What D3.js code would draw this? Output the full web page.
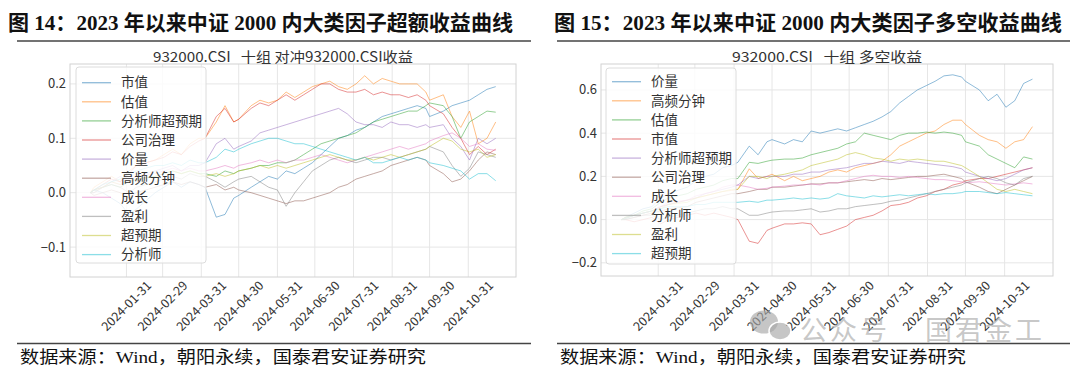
<!DOCTYPE html>
<html>
<head>
<meta charset="utf-8">
<script src="https://cdn.jsdelivr.net/npm/d3@7"></script>
<style>
  body { margin: 0; background: #fff; }
  svg { display: block; }
  .hd { font-family: "Liberation Serif", "Noto Sans CJK SC", serif; font-weight: bold; fill: #111; }
  .src { font-family: "Liberation Serif", "Noto Sans CJK SC", serif; fill: #111; }
  .sans { font-family: "Noto Sans CJK SC", "DejaVu Sans", sans-serif; fill: #333; }
</style>
</head>
<body>
<svg id="chart" width="1080" height="373"></svg>
<script>

// weekly closes (the first 13 sit under the legends)
var dates = ["2024-01-02","2024-01-05","2024-01-12","2024-01-19","2024-01-26","2024-02-02","2024-02-08","2024-02-23",
  "2024-03-01","2024-03-08","2024-03-15","2024-03-22","2024-03-29","2024-04-03","2024-04-12","2024-04-19","2024-04-26",
  "2024-04-30","2024-05-10","2024-05-17","2024-05-24","2024-05-31","2024-06-07","2024-06-14","2024-06-21","2024-06-28",
  "2024-07-05","2024-07-12","2024-07-19","2024-07-26","2024-08-02","2024-08-09","2024-08-16","2024-08-23","2024-08-30",
  "2024-09-06","2024-09-13","2024-09-20","2024-09-27","2024-09-30","2024-10-11","2024-10-18","2024-10-25","2024-11-01",
  "2024-11-08","2024-11-15","2024-11-22"];

var tickDates = ["2024-01-31","2024-02-29","2024-03-31","2024-04-30","2024-05-31","2024-06-30",
  "2024-07-31","2024-08-31","2024-09-30","2024-10-31"];

var colors = ["#1f77b4","#ff7f0e","#2ca02c","#d62728","#9467bd","#8c564b","#e377c2","#7f7f7f","#bcbd22","#17becf"];

// left panel: 超额收益
var leftNames = ["市值","估值","分析师超预期","公司治理","价量","高频分钟","成长","盈利","超预期","分析师"];
var leftTicks = [-0.1, 0.0, 0.1, 0.2];

var exSize = [0, 0.005, 0, -0.01, -0.02, -0.04, -0.03, 0, 0.01, 0.02, 0.01, 0.02, 0.015,
  0.01, -0.045, -0.04, -0.01, -0.005, 0.01, 0.02, 0.03, 0.025, 0.04, 0.035, 0.045, 0.055, 0.07, 0.085, 0.1, 0.105,
  0.115, 0.12, 0.13, 0.14, 0.145, 0.15, 0.155, 0.16, 0.155, 0.14, 0.15, 0.16, 0.165, 0.17, 0.18, 0.19, 0.195];
var exValue = [0, 0.01, 0.02, 0.03, 0.02, 0.04, 0.05, 0.06, 0.07, 0.08, 0.07, 0.09, 0.1,
  0.1, 0.13, 0.16, 0.13, 0.135, 0.16, 0.17, 0.165, 0.17, 0.185, 0.175, 0.185, 0.195, 0.2, 0.205, 0.195, 0.19,
  0.2, 0.215, 0.2, 0.21, 0.205, 0.2, 0.2, 0.2, 0.185, 0.17, 0.18, 0.14, 0.12, 0.15, 0.09, 0.1, 0.13];
var exAnaSurprise = [0, 0, 0.01, 0.015, 0.01, 0.02, 0.025, 0.03, 0.035, 0.04, 0.035, 0.04, 0.035,
  0.035, 0.03, 0.04, 0.035, 0.04, 0.045, 0.05, 0.05, 0.055, 0.055, 0.06, 0.07, 0.08, 0.09, 0.095, 0.1, 0.105,
  0.11, 0.12, 0.13, 0.135, 0.14, 0.145, 0.15, 0.15, 0.16, 0.165, 0.16, 0.14, 0.1, 0.13, 0.14, 0.15, 0.148];
var exGovern = [0, 0.005, 0.015, 0.025, 0.02, 0.035, 0.05, 0.06, 0.065, 0.075, 0.07, 0.085, 0.095,
  0.1, 0.14, 0.155, 0.13, 0.135, 0.155, 0.165, 0.16, 0.17, 0.18, 0.17, 0.18, 0.19, 0.2, 0.2, 0.19, 0.185,
  0.185, 0.19, 0.18, 0.185, 0.18, 0.18, 0.175, 0.18, 0.17, 0.16, 0.145, 0.12, 0.1, 0.07, 0.085, 0.07, 0.08];
var exPriceVol = [0, 0.005, 0.01, 0.02, 0.03, 0.02, 0.03, 0.04, 0.045, 0.05, 0.04, 0.05, 0.05,
  0.055, 0.09, 0.1, 0.08, 0.085, 0.095, 0.11, 0.115, 0.12, 0.125, 0.13, 0.135, 0.14, 0.145, 0.15, 0.155, 0.145,
  0.13, 0.125, 0.125, 0.12, 0.13, 0.125, 0.125, 0.12, 0.125, 0.12, 0.125, 0.1, 0.085, 0.06, 0.1, 0.09, 0.1];
var exHF = [0, -0.005, 0, 0.005, 0, -0.01, 0, 0.01, 0.015, 0.02, 0.015, 0.02, 0.015,
  0.01, 0.015, 0.005, 0.01, 0.005, 0, -0.005, -0.01, -0.015, -0.02, -0.015, -0.015, -0.01, -0.005, 0, 0.01, 0.015,
  0.025, 0.03, 0.035, 0.04, 0.05, 0.055, 0.06, 0.065, 0.06, 0.05, 0.035, 0.02, 0.025, 0.04, 0.06, 0.075, 0.07];
var exGrowth = [0, 0, 0.01, 0.02, 0.015, 0.025, 0.03, 0.035, 0.04, 0.045, 0.04, 0.045, 0.04,
  0.04, 0.045, 0.05, 0.045, 0.05, 0.055, 0.06, 0.055, 0.06, 0.055, 0.06, 0.06, 0.065, 0.07, 0.065, 0.06, 0.055,
  0.06, 0.065, 0.07, 0.075, 0.08, 0.085, 0.08, 0.085, 0.09, 0.095, 0.105, 0.11, 0.1, 0.085, 0.09, 0.08, 0.078];
var exProfit = [0, 0.005, 0.01, 0.015, 0.01, 0, 0.01, 0.02, 0.025, 0.03, 0.025, 0.035, 0.03,
  0.03, 0.02, 0.01, 0.02, 0.025, 0.03, 0.02, 0.01, 0.005, -0.025, 0, 0.02, 0.04, 0.05, 0.06, 0.065, 0.06,
  0.055, 0.06, 0.065, 0.065, 0.06, 0.065, 0.07, 0.075, 0.08, 0.085, 0.075, 0.05, 0.03, 0.045, 0.075, 0.07, 0.065];
var exSurprise = [0, 0.005, 0.01, 0.02, 0.015, 0.02, 0.025, 0.03, 0.035, 0.04, 0.035, 0.04, 0.035,
  0.03, 0.035, 0.03, 0.035, 0.04, 0.045, 0.05, 0.045, 0.05, 0.045, 0.05, 0.055, 0.06, 0.065, 0.07, 0.065, 0.06,
  0.06, 0.065, 0.06, 0.065, 0.07, 0.065, 0.07, 0.075, 0.08, 0.085, 0.1, 0.095, 0.08, 0.075, 0.08, 0.065, 0.07];
var exAnalyst = [0, 0.005, 0.015, 0.02, 0.025, 0.035, 0.04, 0.05, 0.05, 0.055, 0.05, 0.06, 0.055,
  0.055, 0.065, 0.08, 0.075, 0.08, 0.09, 0.095, 0.1, 0.1, 0.095, 0.09, 0.09, 0.085, 0.08, 0.075, 0.07, 0.065,
  0.06, 0.065, 0.055, 0.055, 0.06, 0.065, 0.06, 0.065, 0.06, 0.055, 0.05, 0.045, 0.04, 0.025, 0.035, 0.035, 0.022];

// right panel: 多空收益
var rightNames = ["价量","高频分钟","估值","市值","分析师超预期","公司治理","成长","分析师","盈利","超预期"];
var rightTicks = [-0.2, 0.0, 0.2, 0.4, 0.6];

var lsPriceVol = [0, 0.01, 0.03, 0.05, 0.06, 0.1, 0.12, 0.15, 0.18, 0.2, 0.21, 0.24, 0.25,
  0.265, 0.34, 0.3, 0.36, 0.37, 0.35, 0.37, 0.36, 0.41, 0.4, 0.41, 0.42, 0.41, 0.425, 0.44, 0.455, 0.475,
  0.5, 0.54, 0.57, 0.6, 0.62, 0.64, 0.665, 0.67, 0.66, 0.64, 0.6, 0.55, 0.58, 0.52, 0.55, 0.63, 0.65];
var lsHF = [0, 0.01, 0.02, 0.03, 0.04, 0.06, 0.07, 0.09, 0.1, 0.11, 0.12, 0.13, 0.135,
  0.14, 0.235, 0.19, 0.2, 0.21, 0.18, 0.2, 0.18, 0.19, 0.2, 0.22, 0.23, 0.22, 0.24, 0.25, 0.26, 0.27,
  0.3, 0.34, 0.36, 0.38, 0.4, 0.41, 0.44, 0.46, 0.46, 0.44, 0.39, 0.37, 0.36, 0.33, 0.36, 0.37, 0.43];
var lsValue = [0, 0.01, 0.02, 0.04, 0.05, 0.08, 0.1, 0.12, 0.14, 0.15, 0.16, 0.18, 0.19,
  0.19, 0.265, 0.26, 0.27, 0.275, 0.28, 0.28, 0.285, 0.3, 0.31, 0.32, 0.33, 0.35, 0.36, 0.4, 0.39, 0.38,
  0.37, 0.39, 0.4, 0.4, 0.405, 0.4, 0.405, 0.4, 0.39, 0.36, 0.34, 0.3, 0.28, 0.26, 0.24, 0.29, 0.28];
var lsSize = [0, 0, -0.01, 0, 0.01, -0.02, 0, 0.02, 0.03, 0.02, 0.03, 0.02, 0.01,
  0, -0.1, -0.11, -0.05, -0.04, -0.02, -0.02, -0.015, -0.02, -0.07, -0.06, -0.045, -0.03, 0, 0.01, 0.02, 0.04,
  0.065, 0.07, 0.08, 0.1, 0.11, 0.13, 0.14, 0.16, 0.17, 0.18, 0.19, 0.19, 0.2, 0.21, 0.22, 0.23, 0.24];
var lsAnaSurprise = [0, 0.005, 0.02, 0.03, 0.04, 0.06, 0.07, 0.09, 0.1, 0.12, 0.13, 0.14, 0.15,
  0.16, 0.2, 0.19, 0.2, 0.2, 0.2, 0.21, 0.21, 0.22, 0.22, 0.23, 0.235, 0.24, 0.25, 0.26, 0.26, 0.27,
  0.265, 0.26, 0.27, 0.265, 0.26, 0.255, 0.25, 0.245, 0.235, 0.22, 0.2, 0.19, 0.18, 0.19, 0.21, 0.23, 0.24];
var lsGovern = [0, 0, 0.01, 0.02, 0.03, 0.04, 0.05, 0.06, 0.08, 0.09, 0.1, 0.11, 0.12,
  0.12, 0.13, 0.14, 0.14, 0.15, 0.15, 0.155, 0.16, 0.165, 0.165, 0.17, 0.17, 0.175, 0.18, 0.185, 0.18, 0.19,
  0.185, 0.19, 0.195, 0.2, 0.2, 0.205, 0.21, 0.2, 0.19, 0.175, 0.15, 0.13, 0.12, 0.14, 0.16, 0.18, 0.2];
var lsGrowth = [0, 0.005, 0.02, 0.03, 0.04, 0.06, 0.08, 0.09, 0.11, 0.12, 0.13, 0.15, 0.16,
  0.16, 0.15, 0.14, 0.145, 0.15, 0.155, 0.16, 0.16, 0.165, 0.16, 0.17, 0.17, 0.18, 0.19, 0.2, 0.205, 0.2,
  0.2, 0.195, 0.2, 0.195, 0.19, 0.185, 0.185, 0.18, 0.175, 0.17, 0.175, 0.17, 0.165, 0.16, 0.165, 0.17, 0.165];
var lsAnalyst = [0, 0, 0.01, 0.02, 0.02, 0, 0.01, 0.03, 0.04, 0.05, 0.05, 0.06, 0.05,
  0.05, 0.02, 0.02, 0.03, 0.035, 0.04, 0.04, 0.045, 0.05, 0.035, 0.04, 0.05, 0.05, 0.06, 0.065, 0.07, 0.075,
  0.085, 0.09, 0.1, 0.11, 0.12, 0.13, 0.14, 0.15, 0.16, 0.17, 0.19, 0.2, 0.19, 0.17, 0.16, 0.19, 0.2];
var lsProfit = [0, 0.005, 0.02, 0.03, 0.04, 0.05, 0.07, 0.08, 0.1, 0.11, 0.12, 0.13, 0.14,
  0.14, 0.2, 0.2, 0.19, 0.2, 0.21, 0.22, 0.23, 0.25, 0.26, 0.27, 0.28, 0.3, 0.31, 0.3, 0.285, 0.28,
  0.27, 0.28, 0.275, 0.28, 0.275, 0.27, 0.27, 0.26, 0.25, 0.24, 0.2, 0.17, 0.14, 0.13, 0.14, 0.13, 0.12];
var lsSurprise = [0, 0.005, 0.02, 0.03, 0.04, 0.05, 0.06, 0.06, 0.07, 0.07, 0.08, 0.08, 0.08,
  0.08, 0.085, 0.08, 0.09, 0.09, 0.095, 0.1, 0.095, 0.1, 0.095, 0.1, 0.12, 0.11, 0.105, 0.1, 0.11, 0.105,
  0.11, 0.115, 0.11, 0.115, 0.12, 0.115, 0.12, 0.12, 0.125, 0.13, 0.13, 0.125, 0.12, 0.125, 0.12, 0.115, 0.11];

var leftSeries = [exSize, exValue, exAnaSurprise, exGovern, exPriceVol, exHF, exGrowth, exProfit, exSurprise, exAnalyst];
var rightSeries = [lsPriceVol, lsHF, lsValue, lsSize, lsAnaSurprise, lsGovern, lsGrowth, lsAnalyst, lsProfit, lsSurprise];

var svg = d3.select("#chart");
var parseDate = d3.timeParse("%Y-%m-%d");
var fmt = d3.format(".1f");

var drawHeader = function (x0, x1, tx, title, titleLen) {
  svg.append("text").attr("class", "hd")
    .attr("x", tx).attr("y", 30).attr("font-size", 21)
    .attr("textLength", titleLen).attr("lengthAdjust", "spacingAndGlyphs")
    .text(title);
  svg.append("line").attr("x1", x0).attr("x2", x1).attr("y1", 41).attr("y2", 41)
    .attr("stroke", "#444").attr("stroke-width", 1.5);
  svg.append("line").attr("x1", x0).attr("x2", x1).attr("y1", 343.5).attr("y2", 343.5)
    .attr("stroke", "#444").attr("stroke-width", 1.5);
  svg.append("text").attr("class", "src")
    .attr("x", x0 + 3).attr("y", 363).attr("font-size", 17)
    .attr("textLength", 406).attr("lengthAdjust", "spacingAndGlyphs")
    .text("数据来源：Wind，朝阳永续，国泰君安证券研究");
};

var drawPanel = function (opt) {
  var parsed = dates.map(parseDate);
  var ext = d3.extent(parsed);
  var pad = (ext[1] - ext[0]) * 0.05;

  var x = d3.scaleTime()
    .domain([new Date(+ext[0] - pad), new Date(+ext[1] + pad)])
    .range([opt.left, opt.right]);
  var y = d3.scaleLinear().domain(opt.yDomain).range([opt.bottom, opt.top]);

  var g = svg.append("g");

  // grid
  g.selectAll(".gx").data(tickDates).enter().append("line")
    .attr("x1", function (d) { return x(parseDate(d)); })
    .attr("x2", function (d) { return x(parseDate(d)); })
    .attr("y1", opt.top).attr("y2", opt.bottom)
    .attr("stroke", "#e6e6e6");
  g.selectAll(".gy").data(opt.yTicks).enter().append("line")
    .attr("x1", opt.left).attr("x2", opt.right)
    .attr("y1", function (d) { return y(d); })
    .attr("y2", function (d) { return y(d); })
    .attr("stroke", "#e6e6e6");

  // tick labels
  g.selectAll(".ty").data(opt.yTicks).enter().append("text")
    .attr("class", "sans")
    .attr("x", opt.left - 4).attr("y", function (d) { return y(d); })
    .attr("dy", "0.35em").attr("text-anchor", "end").attr("font-size", 13)
    .text(function (d) { return fmt(d).replace("-", "\u2212"); });
  g.selectAll(".tx").data(tickDates).enter().append("text")
    .attr("class", "sans")
    .attr("text-anchor", "middle").attr("font-size", 12.5)
    .attr("transform", function (d) { return "translate(" + x(parseDate(d)) + ",306) rotate(-45)"; })
    .attr("dy", "0.35em")
    .text(function (d) { return d; });

  // lines
  var line = d3.line()
    .x(function (d, i) { return x(parsed[i]); })
    .y(function (d) { return y(d); });

  g.selectAll(".series").data(opt.series).enter().append("path")
    .attr("fill", "none")
    .attr("stroke", function (d, i) { return colors[i]; })
    .attr("stroke-opacity", 0.5)
    .attr("stroke-width", 1)
    .attr("stroke-linejoin", "round")
    .attr("d", line);

  // frame
  g.append("rect")
    .attr("x", opt.left).attr("y", opt.top)
    .attr("width", opt.right - opt.left).attr("height", opt.bottom - opt.top)
    .attr("fill", "none").attr("stroke", "#d2d2d2");

  // subtitle
  g.append("text").attr("class", "sans")
    .attr("x", opt.subX).attr("y", 62).attr("text-anchor", "middle").attr("font-size", 14)
    .style("white-space", "pre")
    .attr("textLength", opt.subLen).attr("lengthAdjust", "spacingAndGlyphs")
    .text(opt.subtitle);

  // legend
  var lg = g.append("g");
  lg.append("rect")
    .attr("x", opt.lgX).attr("y", opt.lgY).attr("width", 130).attr("height", 196)
    .attr("rx", 3).attr("fill", "#fff").attr("fill-opacity", 0.82)
    .attr("stroke", "#dcdcdc");
  var item = lg.selectAll(".item").data(opt.names).enter().append("g")
    .attr("transform", function (d, i) { return "translate(0," + (opt.lgFirst + i * 19.1) + ")"; });
  item.append("line")
    .attr("x1", opt.lgX + 6).attr("x2", opt.lgX + 35)
    .attr("stroke", function (d, i) { return colors[i]; })
    .attr("stroke-opacity", 0.5).attr("stroke-width", 1.3);
  item.append("text").attr("class", "sans")
    .attr("x", opt.lgX + 45).attr("dy", "0.35em").attr("font-size", 13.5)
    .text(function (d) { return d; });
};

drawHeader(17, 531, 8, "图 14：2023 年以来中证 2000 内大类因子超额收益曲线", 505);
drawHeader(557, 1070, 554, "图 15：2023 年以来中证 2000 内大类因子多空收益曲线", 508);

drawPanel({
  left: 70, right: 516, top: 64, bottom: 277,
  yDomain: [-0.155, 0.2366], yTicks: leftTicks,
  series: leftSeries, names: leftNames,
  subtitle: "932000.CSI   十组 对冲932000.CSI收益", subX: 283, subLen: 260,
  lgX: 76, lgY: 67, lgFirst: 82.7
});

drawPanel({
  left: 601, right: 1053, top: 64, bottom: 276,
  yDomain: [-0.261, 0.72], yTicks: rightTicks,
  series: rightSeries, names: rightNames,
  subtitle: "932000.CSI   十组 多空收益", subX: 827, subLen: 190,
  lgX: 606, lgY: 68, lgFirst: 81.7
});

// watermark
var wm = svg.append("g").attr("fill", "#a8a8a8").attr("fill-opacity", 0.65);
wm.append("ellipse").attr("cx", 764).attr("cy", 322).attr("rx", 14).attr("ry", 11.5);
wm.append("ellipse").attr("cx", 780).attr("cy", 331).attr("rx", 11).attr("ry", 9).attr("stroke", "#fff").attr("stroke-width", 1.5);
wm.append("text").attr("x", 800).attr("y", 340)
  .attr("font-family", "Noto Sans CJK SC").attr("font-size", 27).attr("letter-spacing", 3)
  .text("公众号");
wm.append("text").attr("x", 925).attr("y", 340)
  .attr("font-family", "Noto Sans CJK SC").attr("font-size", 27).attr("letter-spacing", 3)
  .text("国君金工");

</script>
</body>
</html>
